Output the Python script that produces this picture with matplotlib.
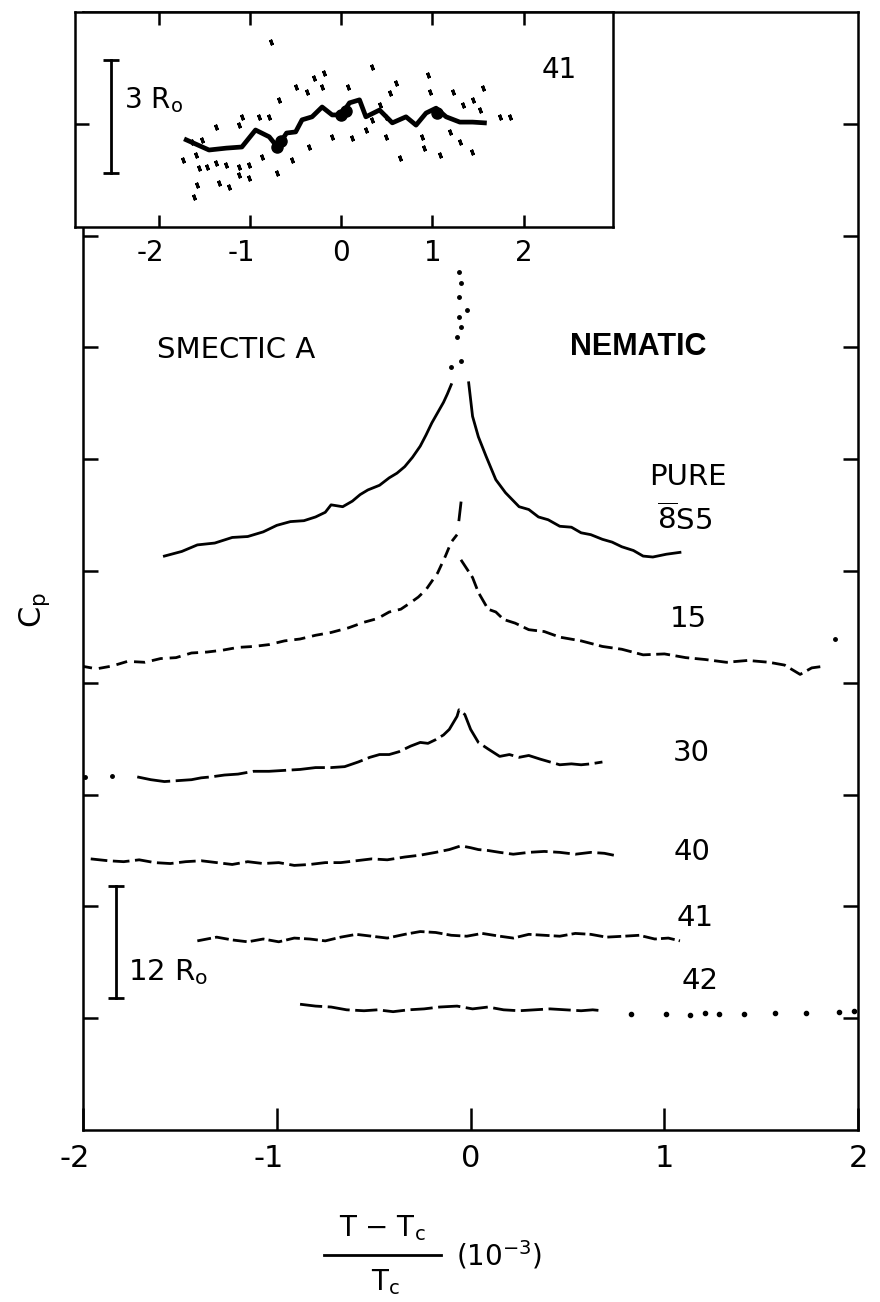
import numpy as np
import matplotlib
matplotlib.use('Agg')
import matplotlib.pyplot as plt
from matplotlib.lines import Line2D
from matplotlib.transforms import ScaledTranslation

plt.rcParams['font.family'] = ['DejaVu Sans']
plt.rcParams['mathtext.fontset'] = 'dejavusans'

# x in units of 1e-3 of (T-Tc)/Tc, Cp in units of R0 (curves offset vertically)
pure_left_x = [-1.58, -1.49, -1.41, -1.32, -1.23, -1.15, -1.07, -1.00, -0.93, -0.86, -0.80, -0.75, -0.72,
               -0.66, -0.61, -0.57, -0.53, -0.47, -0.42, -0.38, -0.34, -0.30, -0.26, -0.23, -0.20, -0.17,
               -0.14, -0.12, -0.10]
pure_left_y = [61.6, 62.1, 62.8, 63.0, 63.6, 63.7, 64.2, 64.9, 65.3, 65.4, 65.8, 66.3, 67.1,
               66.9, 67.5, 68.2, 68.7, 69.2, 70.0, 70.5, 71.2, 72.2, 73.4, 74.6, 75.9, 77.0,
               78.1, 79.0, 80.0]
pure_peak_x = [-0.10, -0.05, -0.07, -0.05, -0.06, -0.02, -0.06, -0.05, -0.06]
pure_peak_y = [81.9, 82.5, 85.1, 86.2, 87.3, 88.0, 89.4, 90.9, 92.1]
pure_right_x = [-0.01, 0.00, 0.01, 0.04, 0.08, 0.13, 0.18, 0.25, 0.30, 0.35, 0.40, 0.46, 0.52,
                0.57, 0.62, 0.68, 0.73, 0.78, 0.84, 0.89, 0.94, 1.01, 1.08]
pure_right_y = [80.2, 78.4, 76.6, 74.4, 72.3, 69.8, 68.4, 66.9, 66.6, 65.8, 65.5, 64.8, 64.7,
                64.1, 63.9, 63.4, 63.1, 62.6, 62.2, 61.6, 61.5, 61.8, 62.0]

c15_left_x = [-2.01, -1.93, -1.85, -1.77, -1.68, -1.60, -1.52, -1.44, -1.36, -1.28, -1.20, -1.12, -1.04,
              -0.96, -0.88, -0.80, -0.72, -0.63, -0.55, -0.48, -0.42, -0.36, -0.31, -0.27, -0.23, -0.20,
              -0.17, -0.13, -0.10, -0.07]
c15_left_y = [49.8, 49.5, 49.8, 50.3, 50.2, 50.6, 50.7, 51.2, 51.3, 51.5, 51.8, 51.9, 52.1,
              52.5, 52.7, 53.1, 53.4, 53.9, 54.5, 54.9, 55.6, 55.9, 56.6, 57.2, 58.0, 58.9,
              59.8, 61.6, 63.1, 63.9]
c15_peak_x = [-0.06, -0.05]
c15_peak_y = [65.5, 67.3]
c15_right_x = [-0.05, 0.01, 0.04, 0.09, 0.13, 0.17, 0.23, 0.30, 0.38, 0.46, 0.57, 0.68, 0.78, 0.89,
               1.00, 1.11, 1.21, 1.32, 1.43, 1.54, 1.62, 1.70, 1.76, 1.83]
c15_right_y = [61.2, 59.3, 57.7, 55.9, 55.6, 54.8, 54.4, 53.7, 53.5, 52.9, 52.5, 51.9, 51.6, 51.0,
               51.1, 50.7, 50.5, 50.2, 50.4, 50.2, 49.9, 48.9, 49.6, 49.8]
c15_end_x = [1.88]
c15_end_y = [52.7]

c30_lead_x = [-1.99, -1.85]
c30_lead_y = [37.9, 38.0]
c30_x = [-1.72, -1.65, -1.58, -1.51, -1.44, -1.39, -1.34, -1.27, -1.20, -1.12, -1.04,
         -0.96, -0.88, -0.80, -0.72, -0.65, -0.58, -0.52, -0.47, -0.42, -0.37, -0.31, -0.26, -0.22,
         -0.18, -0.14, -0.11, -0.07, -0.06, -0.03, 0.00, 0.04, 0.09, 0.15, 0.20, 0.25, 0.30, 0.36,
         0.41, 0.46, 0.52, 0.57, 0.62, 0.68]
c30_y = [37.9, 37.6, 37.4, 37.5, 37.6, 37.8, 37.9, 38.1, 38.2, 38.5, 38.5,
         38.6, 38.7, 38.9, 38.9, 39.0, 39.5, 40.0, 40.3, 40.3, 40.6, 41.2, 41.6, 41.5,
         41.9, 42.4, 43.0, 44.4, 45.1, 44.6, 43.0, 41.6, 40.9, 40.1, 40.3, 40.0, 40.2, 39.8,
         39.5, 39.2, 39.3, 39.2, 39.3, 39.5]

c40_x = [-1.96, -1.87, -1.79, -1.71, -1.63, -1.55, -1.47, -1.39, -1.31, -1.23, -1.15, -1.07, -0.99,
         -0.91, -0.83, -0.75, -0.67, -0.59, -0.51, -0.43, -0.34, -0.26, -0.18, -0.11, -0.05, 0.00,
         0.04, 0.09, 0.15, 0.22, 0.30, 0.38, 0.46, 0.54, 0.62, 0.69, 0.76]
c40_y = [29.1, 28.9, 28.8, 29.0, 28.7, 28.6, 28.8, 28.9, 28.7, 28.5, 28.8, 28.6, 28.7,
         28.4, 28.5, 28.7, 28.7, 28.9, 29.1, 29.0, 29.3, 29.5, 29.8, 30.1, 30.5, 30.3,
         30.1, 30.0, 29.8, 29.6, 29.8, 29.9, 29.8, 29.6, 29.8, 29.7, 29.4]

c41_x = [-1.41, -1.36, -1.31, -1.23, -1.15, -1.07, -0.99, -0.91, -0.83, -0.75, -0.67, -0.59, -0.51,
         -0.43, -0.34, -0.26, -0.18, -0.10, -0.02, 0.06, 0.15, 0.22, 0.30, 0.38, 0.46, 0.54, 0.62,
         0.70, 0.79, 0.87, 0.95, 1.02, 1.08]
c41_y = [20.3, 20.5, 20.7, 20.4, 20.2, 20.5, 20.2, 20.6, 20.5, 20.3, 20.7, 21.0, 20.8,
         20.6, 21.0, 21.3, 21.2, 20.9, 20.8, 21.1, 20.8, 20.6, 21.0, 20.9, 20.8, 21.1, 21.0,
         20.7, 20.8, 20.9, 20.5, 20.6, 20.3]

c42_x = [-0.88, -0.80, -0.72, -0.64, -0.55, -0.48, -0.40, -0.32, -0.24, -0.16, -0.07, 0.01, 0.09,
         0.17, 0.25, 0.33, 0.41, 0.49, 0.57, 0.63, 0.68]
c42_y = [13.5, 13.3, 13.2, 12.9, 12.8, 12.9, 12.7, 12.9, 13.0, 13.2, 13.3, 13.0, 13.2,
         12.9, 12.8, 12.9, 13.0, 12.9, 12.8, 12.9, 12.8]
c42_tail_x = [0.83, 1.01, 1.13, 1.21, 1.28, 1.41, 1.57, 1.73, 1.90, 1.98]
c42_tail_y = [12.5, 12.4, 12.3, 12.6, 12.5, 12.4, 12.6, 12.6, 12.7, 12.8]

# enlarged view of the 41 run (inset, Cp in R0 about its mean)
inset_line_x = [-1.70, -1.45, -1.26, -1.09, -0.94, -0.79, -0.70, -0.60, -0.50, -0.43, -0.32, -0.21,
                -0.10, 0.00, 0.09, 0.20, 0.27, 0.42, 0.56, 0.71, 0.82, 0.93, 1.04, 1.15, 1.30,
                1.44, 1.57]
inset_line_y = [-0.42, -0.69, -0.64, -0.61, -0.16, -0.34, -0.61, -0.24, -0.21, 0.11, 0.19, 0.45,
                0.24, 0.24, 0.56, 0.64, 0.19, 0.37, 0.03, 0.19, -0.03, 0.29, 0.42, 0.19, 0.05,
                0.05, 0.03]
inset_blob_x = [-0.70, -0.66, 0.00, 0.05, 1.05]
inset_blob_y = [-0.61, -0.45, 0.24, 0.35, 0.30]
inset_dot_x = [0.34, -0.19, -0.30, 0.95, 0.60, -0.50, -0.21, 0.07, 0.97, 1.22, 1.55, -0.68, -0.38,
               0.53, 1.44, 0.42, 1.33, 1.52, 1.74, 1.85, -1.12, -1.09, -1.37, -0.90, -0.79, 0.49,
               0.27, 0.34, 0.12, -0.10, -0.35, -0.54, -0.71, 0.49, 0.89, 1.19, 1.30, 0.91, 1.08,
               1.43, 0.64, -1.73, -1.59, -1.56, -1.47, -1.37, -1.26, -1.12, -1.01, -1.12, -1.01,
               -1.34, -1.23, -1.58, -1.62, -0.87, -1.53, -1.64, -0.77]
inset_dot_y = [1.51, 1.35, 1.22, 1.30, 1.09, 0.98, 0.98, 0.98, 0.85, 0.85, 0.95, 0.64, 0.85,
               0.82, 0.64, 0.50, 0.50, 0.37, 0.19, 0.19, -0.03, 0.19, -0.08, 0.19, 0.19, 0.19,
               -0.16, 0.11, -0.37, -0.34, -0.61, -0.95, -1.30, -0.34, -0.34, -0.21, -0.47, -0.64, -0.82,
               -0.74, -0.90, -0.95, -0.82, -1.17, -1.14, -1.03, -1.09, -1.14, -1.09, -1.35, -1.43,
               -1.57, -1.67, -1.62, -1.94, -0.87, -0.42, -0.47, 2.18]

tick_vals = [-2, -1, 0, 1, 2]
tick_text = ['-2', '-1', '0', '1', '2']

fig = plt.figure(figsize=(8.8, 13.02), dpi=100)
ax = fig.add_axes([0.0943, 0.1321, 0.881, 0.8587])

ink = 'black'
ax.plot(pure_left_x, pure_left_y, color=ink, lw=2.0)
ax.plot(pure_peak_x, pure_peak_y, color=ink, ls='none', marker='o', ms=2.5)
ax.plot(pure_right_x, pure_right_y, color=ink, lw=2.0)

ax.plot(c15_left_x, c15_left_y, color=ink, lw=2.0, dashes=(4, 2.5))
ax.plot(c15_peak_x, c15_peak_y, color=ink, lw=2.0)
ax.plot(c15_right_x, c15_right_y, color=ink, lw=2.0, dashes=(5, 2))
ax.plot(c15_end_x, c15_end_y, color=ink, ls='none', marker='o', ms=2.5)

ax.plot(c30_lead_x, c30_lead_y, color=ink, ls='none', marker='o', ms=2.5)
ax.plot(c30_x, c30_y, color=ink, lw=2.0, dashes=(12, 2))
ax.plot(c40_x, c40_y, color=ink, lw=2.0, dashes=(6, 2))
ax.plot(c41_x, c41_y, color=ink, lw=2.0, dashes=(5, 1.5))
ax.plot(c42_x, c42_y, color=ink, lw=2.0, dashes=(8, 2))
ax.plot(c42_tail_x, c42_tail_y, color=ink, ls='none', marker='o', ms=3.0)

# 12 R0 scale bar
bar_x = -1.83
bar_lo, bar_len = 14.2, 12
ax.plot([bar_x, bar_x], [bar_lo, bar_lo + bar_len], color=ink, lw=2.0)
ax.plot([bar_x, bar_x], [bar_lo, bar_lo + bar_len], color=ink, ls='none', marker='_', ms=11, mew=2.0)
ax.text(-1.77, 17.0, r'12 R$_\mathrm{o}$', fontsize=21, va='center', ha='left')

ax.text(-1.617, 83.75, 'SMECTIC A', fontsize=21, va='center', ha='left')
ax.text(1.215, 84.0, 'NEMATIC', fontsize=22, fontweight='bold', family='Liberation Sans',
        va='center', ha='right')
ax.text(0.92, 70.1, 'PURE', fontsize=21, va='center', ha='left')
ax.text(0.96, 65.5, r'$\overline{\mathrm{8}}$S5', fontsize=21, va='center', ha='left')
curve_labels = ['15', '30', '40', '41', '42']
label_x = [1.03, 1.045, 1.045, 1.06, 1.09]
label_y = [54.8, 40.5, 29.8, 22.8, 16.0]
for s, lx, ly in zip(curve_labels, label_x, label_y):
    ax.text(lx, ly, s, fontsize=21, va='center', ha='left')

ax.set_xlim(-2, 2)
ax.set_ylim(0, 120)
ax.set_xticks(tick_vals)
ax.set_xticklabels(tick_text, fontsize=22)
ax.set_yticks(range(12, 120, 12))
ax.tick_params(axis='x', direction='in', length=16, width=1.8, pad=10, top=False)
ax.tick_params(axis='y', direction='in', length=11, width=1.8, left=True, right=True,
               labelleft=False)
# no left tick just below the inset
ax.yaxis.get_major_ticks()[-1].tick1line.set_visible(False)
for sp in ax.spines.values():
    sp.set_linewidth(1.8)

# nudge negative labels so the digit sits under its tick
shift = ScaledTranslation(-6 / 72, 0, fig.dpi_scale_trans)
for lbl in ax.get_xticklabels():
    if lbl.get_text().startswith('-'):
        lbl.set_transform(lbl.get_transform() + shift)

# inset
axi = fig.add_axes([0.0852, 0.8257, 0.6114, 0.1651])
axi.set_facecolor('white')
axi.plot(inset_line_x, inset_line_y, color=ink, lw=3.4)
axi.plot(inset_blob_x, inset_blob_y, color=ink, ls='none', marker='o', ms=8)
axi.plot(inset_dot_x, inset_dot_y, color=ink, ls='none', marker=(2, 2, 20), ms=4, mew=2.2)
axi.plot([-2.53, -2.53], [-1.30, 1.70], color=ink, lw=2.0)
axi.plot([-2.53, -2.53], [-1.30, 1.70], color=ink, ls='none', marker='_', ms=11, mew=2.0)
axi.text(-2.38, 0.64, r'3 R$_\mathrm{o}$', fontsize=20, va='center', ha='left')
axi.text(2.20, 1.43, '41', fontsize=20, va='center', ha='left')
axi.set_xlim(-2.92, 2.98)
axi.set_ylim(-2.73, 2.97)
axi.set_xticks(tick_vals)
axi.set_xticklabels(tick_text, fontsize=20)
axi.set_yticks([0])
axi.set_yticklabels([])
axi.tick_params(axis='x', direction='in', length=9, width=1.8, top=True, pad=9)
axi.tick_params(axis='y', direction='in', length=10, width=1.8, left=True, right=False)
for sp in axi.spines.values():
    sp.set_linewidth(1.8)
for lbl in axi.get_xticklabels():
    if lbl.get_text().startswith('-'):
        lbl.set_transform(lbl.get_transform() + shift)

fig.text(35 / 880, 1 - 610 / 1302, r'C$_\mathrm{p}$', rotation=90, fontsize=22,
         ha='center', va='center')

# x label: (T - Tc) / Tc  (10^-3)
fig.text(382 / 880, 1 - 1228 / 1302, r'T $-$ T$_\mathrm{c}$', fontsize=20, ha='center', va='center')
fig.add_artist(Line2D([324 / 880, 441 / 880], [1 - 1255 / 1302] * 2, color=ink, lw=2.0))
fig.text(385 / 880, 1 - 1282 / 1302, r'T$_\mathrm{c}$', fontsize=20, ha='center', va='center')
fig.text(456 / 880, 1 - 1255 / 1302, r'(10$^{-3}$)', fontsize=20, ha='left', va='center')

fig.savefig('out.png', dpi=100)
